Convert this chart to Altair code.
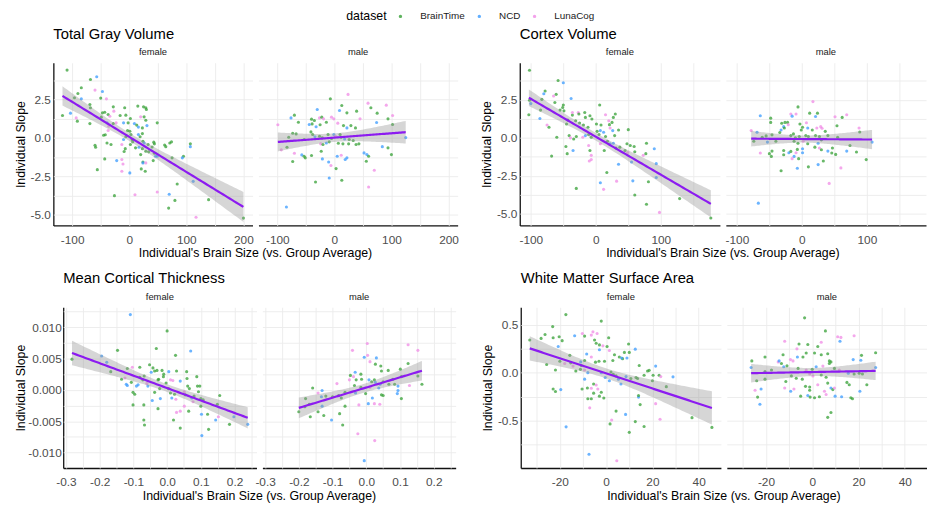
import numpy as np
import pandas as pd
import altair as alt

FONT = "Liberation Sans"
DATASETS = ["BrainTime", "NCD", "LunaCog"]
COLORS = ["#36a036", "#3a9bff", "#f08be6"]
CODE = {"g": "BrainTime", "b": "NCD", "p": "LunaCog"}
SEXES = ["female", "male"]
XTITLE = "Individual's Brain Size (vs. Group Average)"
YTITLE = "Individual Slope"

# ---------------- Total Gray Volume ----------------
TGV_F_X = [-109, -57, -68, -84, -60, -47, -90, -96, -84, -50,
           -40, -117, -103, -93, -91, -69, -68, -69, -47, -43,
           -49, -37, -34, -28, -27, -39, -28, -36, -45, -42,
           -37, -60, -59, -39, -32, -43, -56, -22, -13, -11,
           -13, 1, -26, 10, -8, -16, -6, 2, -2, -10,
           -23, 15, 25, 29, 30, 20, 26, 29, 31, 9,
           13, 16, 23, 49, -3, 1, 3, -6, -10, 5,
           6, 16, 19, 23, -13, -7, -9, 2, 11, 17,
           23, 24, 26, 29, 33, 34, 43, 44, 40, 44,
           49, 46, 20, 24, 24, 29, 21, 28, 42, 62,
           64, 71, 74, 75, 95, 93, 107, 107, 49, 70,
           80, 84, 69, 112, 139, 117, 200]
TGV_F_Y = [4.41, 3.98, 3.80, 3.26, 3.11, 3.02, 2.89, 2.61, 2.54, 2.59,
           2.54, 1.46, 1.61, 1.30, 1.09, 2.17, 1.96, 0.93, 1.63, 1.67,
           1.35, 1.52, 1.41, 2.02, 1.74, 0.98, 0.93, 0.76, 0.17, 0.20,
           0.48, -0.48, -0.61, -0.33, -0.43, -1.37, -2.07, -1.48, -1.41, -1.70,
           -2.17, -2.28, -3.76, -3.70, 1.96, 1.46, 1.48, 1.26, 0.98, 0.98,
           0.98, 2.07, 2.02, 1.96, 1.85, 1.37, 1.37, 1.15, 0.80, 0.93,
           0.83, 0.70, 0.65, 0.98, 0.48, 0.43, 0.22, 0.07, -0.11, -0.11,
           -0.26, 0.22, 0.07, 0.28, -0.43, -0.70, -0.89, -0.43, -0.65, -0.61,
           -0.70, -0.22, -0.33, -0.87, -0.43, -0.91, -0.28, -0.39, -0.59, -1.00,
           -1.20, -1.20, -1.09, -1.57, -1.63, -1.63, -2.02, -2.17, -1.48, -0.46,
           -0.57, -0.33, -0.26, -1.30, -1.20, -1.30, -0.39, -0.57, -3.52, -3.67,
           -4.07, -3.00, -4.57, -2.83, -4.02, -5.17, -5.22]
TGV_F_D = ("gbggpbggbg" "pgbpgggggg" "ggpgpbgpgg" "pggggggbpp" "pbgpgggggb"
           "pggggpggbb" "gbggggggbg" "gbggpggggb" "ggbggggggg" "bbggbpgggg"
           "gggggbgbpb" "gggbgpg")

TGV_M_X = [24, -7, 59, 91, 64, 13, -30, 9, 22, 39,
           75, 102, -70, -76, -63, -99, -40, -35, -26, -22,
           -19, -5, -1, -14, -39, -44, -25, -32, 6, 16,
           22, 29, 37, 45, 74, 94, 102, -73, -67, -80,
           -53, -41, -38, -34, -26, -21, -11, -5, -1, 2,
           10, 12, 18, 26, 33, 7, 15, 25, 38, 43,
           -24, -20, -14, -9, -93, -83, -70, -73, -57, -53,
           -51, -40, -23, -21, -10, -6, 3, 5, 12, 19,
           22, 52, 57, 56, 60, 84, 94, 100, 70, 60,
           13, -9, -33, -84, 125]
TGV_M_Y = [2.83, 2.54, 2.26, 2.13, 1.96, 2.11, 1.85, 1.78, 1.63, 1.74,
           1.61, 1.46, 1.48, 1.30, 1.02, 0.85, 1.22, 1.13, 1.30, 1.35,
           1.24, 1.35, 1.24, 1.02, 0.91, 0.87, 0.85, 0.72, 0.96, 0.80,
           0.65, 0.80, 0.65, 1.24, 1.00, 1.24, 0.87, 0.30, 0.26, 0.04,
           -0.11, 0.39, 0.22, 0.07, 0.11, 0.00, 0.22, -0.04, 0.22, 0.11,
           0.22, 0.04, -0.07, -0.11, -0.17, -0.35, -0.39, -0.39, -0.43, -0.39,
           -0.39, -0.43, -0.33, -0.26, -0.78, -0.61, -1.00, -1.54, -1.11, -1.20,
           -1.30, -1.15, -0.87, -1.37, -1.57, -1.80, -2.00, -1.20, -1.13, -1.41,
           -1.30, -0.98, -1.09, -1.52, -1.20, -0.57, -0.65, -1.09, -2.11, -3.20,
           -2.76, -2.61, -2.87, -4.50, 0.02]
TGV_M_D = ("pgppggbbgg" "gpgbgpggpg" "pppggbgbpg" "bggpbggggg" "gggbggggbp"
           "ggbggggggg" "pgbgpgpgbg" "gggbbpgbpb" "bbbggbggpp" "gbgbb")

# ---------------- Cortex Volume ----------------
CV_F_X = [-102, -58, -50, -78, -80, -61, -65, -38, -83, -102,
          -100, -63, -50, -51, -55, -49, -103, -85, -86, -75,
          -72, -45, -43, -36, -36, -27, -26, -17, -16, -9,
          -6, -31, -25, -19, -12, -41, -39, -34, -30, -20,
          -16, -11, -7, -60, -46, -44, -68, -35, -11, -9,
          -7, -10, -7, -30, 6, 15, 8, 2, 5, 1,
          7, 12, 15, 20, 21, 25, 27, 30, 22, 26,
          35, 50, 29, 18, 22, 7, 13, 27, 31, 37,
          48, 53, 59, 45, 49, 60, 78, 73, 77, 90,
          35, 55, 93, 17, 7, 12, 32, 57, 81, 60,
          78, 98, 129, 177, 93]
CV_F_Y = [4.46, 3.78, 3.63, 3.09, 2.91, 2.87, 2.76, 2.59, 2.54, 2.48,
          2.26, 2.33, 2.17, 2.00, 1.83, 1.78, 1.52, 1.83, 1.28, 0.85,
          0.70, 0.91, 1.17, 1.50, 1.67, 1.67, 1.57, 1.67, 1.35, 1.46,
          1.24, 1.13, 0.98, 0.85, 0.70, 0.15, 0.00, -0.07, 0.09, 0.04,
          0.15, 0.22, 0.04, 0.04, -0.57, -1.04, -1.20, -0.83, -0.50, -0.83,
          -1.15, -1.52, -1.43, -3.33, 2.17, 1.52, 0.85, 0.43, 0.22, 0.91,
          0.48, 0.37, 0.09, 1.13, 0.87, 1.02, 1.35, 1.57, 0.65, 0.48,
          0.52, 0.54, 0.15, -0.22, -0.39, -0.39, -0.83, -0.35, -0.67, -0.61,
          -0.39, -0.50, -0.57, -0.83, -0.96, -0.91, -0.35, -1.15, -1.04, -0.72,
          -1.74, -1.59, -1.70, -2.28, -2.96, -3.39, -2.85, -2.83, -2.89, -3.76,
          -4.37, -4.91, -4.00, -5.28, -2.61]
CV_F_D = ("ggbgbgpbgg" "bgggggggbp" "ggggppgggg" "ggggggpggp" "bggggggbpg"
          "pppggpgggg" "bbgpggggpb" "ggggbpgbgg" "ggggpggpgb" "bbbgbppbgg"
          "gpggb")

CV_M_X = [17, -6, -64, -17, -9, -15, 12, 21, 24, 51,
          62, 69, -48, -48, -31, -26, -22, -21, -28, -32,
          -34, -27, -3, 1, -1, 7, 9, 16, 23, 29,
          31, 36, 54, 88, 89, -78, -69, -46, -55, -61,
          -17, -13, -10, -4, 6, 10, 21, 27, 40, 55,
          -74, -53, -40, -12, -6, 2, 9, 25, 30, 74,
          108, -64, -50, -46, -47, -28, -28, -20, -17, -9,
          -7, -12, -15, -5, 1, 1, 20, 27, 30, 40,
          47, 46, 52, 69, 84, 99, 33, 25, 10, -7,
          -32, 60, 42, -67]
CV_M_Y = [2.39, 2.04, 1.46, 1.57, 1.57, 1.43, 1.63, 1.41, 1.63, 1.39,
          1.35, 1.52, 1.30, 1.02, 0.96, 1.02, 1.02, 0.87, 0.74, 0.52,
          0.35, 0.65, 0.91, 0.70, 0.52, 1.00, 0.65, 0.52, 0.65, 0.74,
          0.63, 0.43, 0.80, 0.65, 0.39, 0.48, 0.37, 0.20, 0.13, 0.04,
          0.15, 0.26, 0.00, 0.09, 0.15, 0.09, 0.15, 0.09, 0.15, 0.04,
          -0.22, -0.28, -0.22, -0.22, -0.35, -0.22, -0.39, -0.35, -0.13, -0.50,
          -0.28, -1.00, -1.04, -0.87, -1.22, -0.83, -1.11, -0.98, -0.89, -0.98,
          -0.76, -1.22, -1.37, -1.37, -0.72, -0.98, -0.61, -0.67, -0.78, -0.87,
          -0.67, -1.00, -1.09, -0.87, -0.93, -1.43, -1.52, -1.76, -1.91, -2.00,
          -2.17, -1.98, -3.00, -4.30]
CV_M_D = ("pgbppbgbgp" "gpgggggpbb" "gggggpbgpp" "pggpgpbggg" "gggggggggg"
          "gbgggpgbgg" "bpgggggbgp" "gbpgbbgpgb" "gggbgggbgb" "gppb")

# ---------------- Mean Cortical Thickness ----------------
MCT_F_X = [-0.109, 0.000, -0.282, -0.194, -0.179, -0.147, -0.167, -0.032, 0.025, 0.070,
           -0.135, -0.125, -0.118, -0.103, -0.081, -0.121, -0.118, -0.106, -0.101, -0.096,
           -0.091, -0.086, -0.081, -0.101, -0.069, -0.069, -0.067, -0.068, -0.072, -0.060,
           -0.057, -0.052, -0.047, -0.042, -0.037, -0.030, -0.027, -0.025, -0.044, -0.027,
           -0.020, -0.015, -0.010, 0.005, -0.011, -0.003, 0.010, 0.017, 0.004, 0.010,
           0.014, 0.019, 0.022, 0.026, 0.028, 0.039, 0.039, 0.051, 0.058, 0.059,
           0.061, 0.066, 0.054, 0.051, 0.039, 0.064, 0.073, 0.080, 0.088, 0.090,
           0.097, 0.093, 0.100, 0.107, 0.100, 0.102, 0.120, 0.103, 0.123, 0.156,
           0.149, 0.152, 0.144, 0.185, 0.198, 0.239, 0.077, 0.028, -0.022, -0.037]
MCT_F_Y = [0.0120, 0.0094, 0.0049, 0.0054, 0.0044, 0.0063, 0.0029, 0.0066, 0.0055, 0.0062,
           0.0017, 0.0019, 0.0034, 0.0036, 0.0036, 0.0009, 0.0007, 0.0012, -0.0004, -0.0007,
           0.0006, 0.0008, 0.0020, -0.0024, -0.0024, -0.0048, -0.0056, 0.0022, 0.0016, 0.0010,
           0.0006, 0.0040, 0.0028, 0.0035, 0.0030, 0.0031, 0.0016, 0.0017, -0.0017, -0.0030,
           -0.0014, 0.0031, 0.0025, 0.0029, 0.0021, 0.0011, 0.0016, 0.0015, 0.0002, -0.0005,
           -0.0013, -0.0048, -0.0007, -0.0015, 0.0030, 0.0014, -0.0061, -0.0003, 0.0029, 0.0018,
           0.0006, 0.0002, -0.0008, -0.0026, -0.0034, -0.0034, -0.0013, -0.0010, 0.0021, 0.0006,
           0.0006, -0.0003, -0.0014, -0.0016, -0.0026, -0.0039, -0.0039, -0.0073, -0.0063, -0.0009,
           -0.0023, -0.0043, -0.0048, -0.0055, -0.0043, -0.0055, -0.0019, -0.0036, 0.0002, -0.0004]
MCT_F_D = ("bggbbggggb" "gpgpgbbggg" "bbgggggggp" "bgbgggggbg" "bggbggppgg"
           "bggpgbgpgg" "gggppgbggg" "gggggbgbgg" "gpbgbbppgg")

MCT_M_X = [0.003, 0.124, 0.153, -0.041, -0.006, 0.004, 0.011, 0.030, 0.027, 0.043,
           0.045, 0.065, 0.101, 0.124, 0.104, -0.033, -0.047, -0.038, -0.050, -0.016,
           -0.014, -0.030, 0.008, 0.016, 0.024, 0.027, 0.041, 0.037, 0.050, 0.067,
           0.079, 0.084, 0.094, 0.094, 0.092, 0.104, 0.128, 0.165, 0.153, -0.087,
           -0.035, -0.016, 0.011, 0.045, 0.050, 0.018, 0.006, 0.024, 0.040, -0.032,
           -0.022, -0.002, -0.082, -0.063, -0.074, -0.100, -0.120, -0.133, -0.131, -0.159,
           -0.143, -0.180, -0.200, -0.166, -0.169, -0.143, -0.126, -0.131, -0.103, -0.070,
           -0.079, -0.025, 0.025, -0.006, -0.063, -0.182]
MCT_M_Y = [0.0074, 0.0072, 0.0063, 0.0063, 0.0052, 0.0055, 0.0045, 0.0051, 0.0041, 0.0038,
           0.0030, 0.0031, 0.0033, 0.0042, 0.0021, 0.0028, 0.0023, 0.0021, 0.0016, 0.0025,
           0.0017, 0.0016, 0.0016, 0.0013, 0.0016, 0.0012, 0.0009, 0.0003, 0.0013, 0.0009,
           0.0017, 0.0009, 0.0006, -0.0001, -0.0006, -0.0014, 0.0007, 0.0009, 0.0022, 0.0010,
           0.0007, 0.0004, 0.0004, -0.0008, -0.0009, -0.0013, -0.0022, -0.0022, -0.0023, -0.0005,
           -0.0024, -0.0006, -0.0009, -0.0004, -0.0013, -0.0011, -0.0010, -0.0011, -0.0001, 0.0003,
           -0.0005, -0.0014, -0.0035, -0.0043, -0.0023, -0.0035, -0.0041, -0.0026, -0.0048, -0.0056,
           -0.0038, -0.0070, -0.0081, -0.0113, -0.0026, -0.0027]
MCT_M_D = ("ppppbppbgg" "gggggbgppg" "ggbggbbbgg" "ggbbbgpggp" "ggpggbbppb"
           "pggggggbbg" "pggggggbbg" "gppbgg")

# ---------------- White Matter Surface Area ----------------
WM_F_X = [-17.4, -2.1, -23.1, -26.4, -28.1, -22.9, -20.3, -19.0, -33.0, -13.6,
          -10.3, -9.3, -5.7, -6.4, -3.9, 1.1, -5.0, -4.3, -2.9, -1.4,
          0.4, -2.9, 1.4, -20.7, 9.7, 12.6, 7.9, 10.0, 3.6, 5.7,
          7.1, 6.7, 9.0, 2.9, -0.7, -3.1, -4.6, -9.3, -8.4, -6.4,
          -15.7, -15.3, -17.9, -20.0, -25.7, -21.9, -11.0, -10.7, -11.1, -13.1,
          -14.3, -9.3, -9.3, -7.9, -2.1, 2.1, 3.1, 4.3, -0.4, 1.4,
          5.3, 6.4, 8.6, 10.7, 12.9, 13.6, 14.3, 16.4, 17.9, 18.6,
          20.3, 21.4, 22.9, 23.6, 20.0, 26.0, 28.9, 14.0, 14.7, 14.0,
          21.4, -5.4, -4.3, -3.6, -2.1, -1.0, -2.9, -6.4, -5.4, -7.9,
          -6.4, -8.1, -10.4, -7.1, -22.9, -21.9, -19.6, 4.3, 2.4, 1.7,
          8.4, 10.0, 12.6, 16.4, 23.3, 37.1, 45.7, -17.3, -7.4, 4.6]
WM_F_Y = [0.605, 0.537, 0.480, 0.398, 0.357, 0.364, 0.374, 0.333, 0.340, 0.384,
          0.408, 0.381, 0.425, 0.391, 0.408, 0.364, 0.340, 0.306, 0.289, 0.279,
          0.272, 0.238, 0.231, 0.272, 0.299, 0.245, 0.211, 0.211, 0.187, 0.163,
          0.146, 0.153, 0.153, 0.126, 0.119, 0.119, 0.109, 0.126, 0.194, 0.163,
          0.180, 0.102, 0.095, 0.119, 0.085, 0.027, 0.112, 0.075, 0.034, 0.017,
          0.068, 0.027, -0.068, 0.000, 0.000, 0.007, -0.017, -0.034, -0.051, -0.085,
          -0.068, -0.119, -0.041, -0.061, -0.051, -0.061, 0.075, -0.027, 0.017, 0.024,
          -0.027, 0.068, -0.027, -0.041, -0.085, -0.146, -0.044, -0.255, -0.333, -0.238,
          -0.323, -0.119, -0.129, -0.170, -0.204, -0.265, -0.245, -0.163, -0.214, -0.272,
          -0.272, -0.160, -0.170, -0.367, -0.170, -0.197, -0.177, -0.401, -0.493, -0.534,
          -0.435, -0.622, -0.510, -0.561, -0.486, -0.469, -0.571, -0.565, -0.850, -0.918]
WM_F_D = ("gggggggggb" "pgpppggggp" "gbpbgbgggg" "gbbgggggbp" "ggpgggbggg"
          "ppbbbgggbb" "bbbggggggg" "gbgpggbbgg" "pgppgggpgg" "gggpggbgpg"
          "bgggpggbbp")

WM_M_X = [-3.3, 5.7, 11.0, 12.4, 18.1, 12.0, -11.9, -5.7, -1.9, 3.9,
          2.4, -2.6, -6.6, -12.6, -6.4, -4.0, 1.0, 3.9, 6.7, 7.4,
          8.1, 17.7, 21.3, 21.0, 27.4, -20.4, -26.4, -26.1, -14.7, -13.3,
          -14.3, -9.4, -8.3, -10.9, -12.3, -17.6, -20.4, -6.1, -2.6, 0.0,
          1.7, 4.6, 7.4, 9.6, 11.7, 15.6, 18.1, 20.3, 21.7, -1.1,
          0.3, 3.9, 6.0, -9.0, -6.9, -4.3, -20.4, -24.0, -11.4, 15.0,
          16.0, 2.4, -2.9, -1.1, 6.7, 8.1, -24.7, -22.1, -11.9, -7.9,
          -9.3, -1.1, 8.9, 9.6, 23.6, 20.6, 12.7, 16.7, 17.4, -5.0,
          -1.9, -0.9, 1.0, 3.1, 5.3, 6.0, 9.9, -23.6, -22.6, 6.7,
          8.1, 27.4]
WM_M_Y = [0.571, 0.435, 0.374, 0.367, 0.384, 0.327, 0.327, 0.299, 0.293, 0.316,
          0.272, 0.204, 0.248, 0.187, 0.163, 0.163, 0.204, 0.187, 0.197, 0.122,
          0.112, 0.136, 0.180, 0.129, 0.207, 0.163, 0.054, 0.122, 0.112, 0.095,
          0.122, 0.136, 0.122, 0.071, 0.061, 0.027, 0.010, 0.044, 0.027, 0.034,
          0.061, 0.068, 0.095, 0.044, 0.027, -0.007, -0.014, -0.007, -0.014, -0.014,
          -0.034, -0.024, -0.048, -0.034, -0.058, -0.068, -0.068, -0.085, -0.092, -0.102,
          -0.126, -0.126, -0.143, -0.150, -0.109, -0.160, -0.184, -0.170, -0.160, -0.170,
          -0.194, -0.184, -0.177, -0.160, -0.126, -0.194, -0.252, -0.262, -0.272, -0.245,
          -0.238, -0.255, -0.262, -0.252, -0.194, -0.228, -0.245, -0.255, -0.330, -0.466,
          -0.415, 0.054]
WM_M_D = ("ggpppbpggp" "ggpgbggggg" "gbgbggbgpg" "bppgbgggpg" "bpggpbgggp"
          "pggggggggg" "gpgggbpbpp" "bggpgbbggg" "bgggppbgbg" "gb")

# axis ticks and labels
TGV_X_TICKS, TGV_X_LABELS, TGV_X_MINOR = [-100, 0, 100, 200], ["-100", "0", "100", "200"], [-50, 50, 150]
CV_X_TICKS, CV_X_LABELS, CV_X_MINOR = [-100, 0, 100], ["-100", "0", "100"], [-50, 50, 150]
VOL_Y_TICKS, VOL_Y_LABELS, VOL_Y_MINOR = [-5, -2.5, 0, 2.5], ["-5.0", "-2.5", "0.0", "2.5"], [-3.75, -1.25, 1.25, 3.75]
MCT_X_TICKS = [-0.3, -0.2, -0.1, 0, 0.1, 0.2]
MCT_X_LABELS = ["-0.3", "-0.2", "-0.1", "0.0", "0.1", "0.2"]
MCT_X_MINOR = [-0.25, -0.15, -0.05, 0.05, 0.15, 0.25]
MCT_Y_TICKS = [-0.01, -0.005, 0, 0.005, 0.01]
MCT_Y_LABELS = ["-0.010", "-0.005", "0.000", "0.005", "0.010"]
MCT_Y_MINOR = [-0.0075, -0.0025, 0.0025, 0.0075, 0.0125]
WM_X_TICKS, WM_X_LABELS, WM_X_MINOR = [-20, 0, 20, 40], ["-20", "0", "20", "40"], [-30, -10, 10, 30]
WM_Y_TICKS, WM_Y_LABELS, WM_Y_MINOR = [-0.5, 0, 0.5], ["-0.5", "0.0", "0.5"], [-0.75, -0.25, 0.25]


def fit_rows(xs, ys, sex, n=80):
    x = np.asarray(xs, float)
    y = np.asarray(ys, float)
    N = len(x)
    xm = x.mean()
    sxx = ((x - xm) ** 2).sum()
    b = ((x - xm) * (y - y.mean())).sum() / sxx
    a = y.mean() - b * xm
    s = np.sqrt(((y - (a + b * x)) ** 2).sum() / (N - 2))
    z = 1.959964
    df = N - 2
    t = z + (z ** 3 + z) / (4 * df) + (5 * z ** 5 + 16 * z ** 3 + 3 * z) / (96 * df ** 2)
    g = np.linspace(x.min(), x.max(), n)
    f = a + b * g
    se = s * np.sqrt(1.0 / N + (g - xm) ** 2 / sxx)
    return pd.DataFrame({"x": g, "fit": f, "lo": f - t * se, "hi": f + t * se,
                         "sex": sex, "kind": "fit"})


def point_rows(xs, ys, ds, sex):
    m = min(len(xs), len(ys), len(ds))
    return pd.DataFrame({"x": xs[:m], "y": ys[:m], "dataset": [CODE[c] for c in ds[:m]],
                         "sex": sex, "kind": "pt"})


def label_expr(ticks, labels):
    parts = [f"datum.value === {v!r} ? '{lab}'" for v, lab in zip(ticks, labels)]
    return " : ".join(parts) + " : ''"


def axis(ticks, labels, minor, title, pad, tpad=3):
    return alt.Axis(values=sorted(ticks + minor), labelExpr=label_expr(ticks, labels),
                    ticks=False, domain=True, domainColor="#111111", domainWidth=1.3,
                    grid=True, gridColor="#ebebeb", gridWidth=0.9,
                    labelFont=FONT, labelFontSize=12, labelColor="#4d4d4d", labelPadding=pad,
                    labelOverlap=False, labelFlush=False,
                    title=title, titleFont=FONT, titleFontSize=12.5, titleFontWeight="normal",
                    titleColor="black", titlePadding=tpad)


def quadrant(title, f, m, xdom, ydom, xt, yt, w, h, ypad=3, ytpad=3):
    fx, fy, fd = f
    mx, my, md = m
    df = pd.concat([point_rows(fx, fy, fd, "female"), point_rows(mx, my, md, "male"),
                    fit_rows(fx, fy, "female"), fit_rows(mx, my, "male")], ignore_index=True)
    xs = alt.Scale(domain=xdom, nice=False, zero=False)
    ys = alt.Scale(domain=ydom, nice=False, zero=False)
    xax = axis(xt[0], xt[1], xt[2], None, 9)
    yax = axis(yt[0], yt[1], yt[2], YTITLE, ypad, ytpad)
    pts = alt.Chart().mark_circle(size=10, opacity=0.75).encode(
        x=alt.X("x:Q", scale=xs, axis=xax),
        y=alt.Y("y:Q", scale=ys, axis=yax),
        color=alt.Color("dataset:N", scale=alt.Scale(domain=DATASETS, range=COLORS),
                        legend=alt.Legend(title="dataset", orient="none", legendX=340, legendY=-52,
                                          direction="horizontal", titleOrient="left",
                                          titleFont=FONT, titleFontSize=12.5, titleFontWeight="normal",
                                          titleColor="black", titlePadding=8,
                                          labelFont=FONT, labelFontSize=10, labelColor="#1a1a1a",
                                          symbolType="circle", symbolSize=12, symbolOpacity=0.8,
                                          symbolStrokeWidth=0, labelOffset=15, columnPadding=9)),
    ).transform_filter(alt.datum.kind == "pt")
    band = alt.Chart().mark_area(color="#999999", opacity=0.4).encode(
        x=alt.X("x:Q", scale=xs, axis=xax),
        y=alt.Y("lo:Q", scale=ys, axis=yax),
        y2="hi:Q",
    ).transform_filter(alt.datum.kind == "fit")
    line = alt.Chart().mark_line(color="#8c1bf0", strokeWidth=2.2).encode(
        x=alt.X("x:Q", scale=xs, axis=xax),
        y=alt.Y("fit:Q", scale=ys, axis=yax),
    ).transform_filter(alt.datum.kind == "fit")
    layered = alt.layer(pts, band, line, data=df).properties(width=w, height=h)
    return layered.facet(
        column=alt.Column("sex:N", sort=SEXES,
                          header=alt.Header(title=XTITLE, titleOrient="bottom", labelOrient="top",
                                            titleFont=FONT, titleFontSize=12.5, titleFontWeight="normal",
                                            titleColor="black", titlePadding=-8,
                                            labelFont=FONT, labelFontSize=9.5, labelColor="#1a1a1a",
                                            labelPadding=6)),
        spacing=6,
    ).properties(title=alt.TitleParams(title, anchor="start", frame="group", font=FONT,
                                       fontSize=15, fontWeight="normal", color="black", offset=6))


def spacer(w):
    return alt.Chart(alt.Data(values=[{"v": 0}])).mark_point(opacity=0).encode(
        x=alt.value(0), y=alt.value(0)).properties(width=w, height=1)


q1 = quadrant("Total Gray Volume", (TGV_F_X, TGV_F_Y, TGV_F_D), (TGV_M_X, TGV_M_Y, TGV_M_D),
              [-133, 216], [-5.70, 4.89],
              (TGV_X_TICKS, TGV_X_LABELS, TGV_X_MINOR), (VOL_Y_TICKS, VOL_Y_LABELS, VOL_Y_MINOR), 202, 165)
q2 = quadrant("Cortex Volume", (CV_F_X, CV_F_Y, CV_F_D), (CV_M_X, CV_M_Y, CV_M_D),
              [-117, 191], [-5.77, 4.95],
              (CV_X_TICKS, CV_X_LABELS, CV_X_MINOR), (VOL_Y_TICKS, VOL_Y_LABELS, VOL_Y_MINOR), 203, 165)
q3 = quadrant("Mean Cortical Thickness", (MCT_F_X, MCT_F_Y, MCT_F_D), (MCT_M_X, MCT_M_Y, MCT_M_D),
              [-0.308, 0.265], [-0.01247, 0.01317],
              (MCT_X_TICKS, MCT_X_LABELS, MCT_X_MINOR), (MCT_Y_TICKS, MCT_Y_LABELS, MCT_Y_MINOR), 196, 163,
              ypad=2, ytpad=0)
q4 = quadrant("White Matter Surface Area", (WM_F_X, WM_F_Y, WM_F_D), (WM_M_X, WM_M_Y, WM_M_D),
              [-36.9, 49.6], [-0.994, 0.681],
              (WM_X_TICKS, WM_X_LABELS, WM_X_MINOR), (WM_Y_TICKS, WM_Y_LABELS, WM_Y_MINOR), 203, 163)

chart = alt.vconcat(
    alt.hconcat(spacer(1), q1, spacer(19), q2, spacing=0),
    alt.hconcat(spacer(1), q3, spacer(23), q4, spacing=0),
    spacing=11,
).resolve_scale(color="shared").properties(
    padding={"left": 0, "top": 0, "right": 0, "bottom": 0},
    background="white",
).configure_view(stroke=None)

chart.save("out.html", embed_options={"renderer": "svg", "actions": False})
